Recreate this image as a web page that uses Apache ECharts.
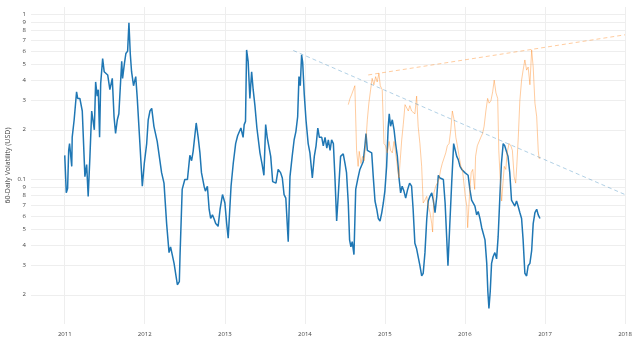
<!DOCTYPE html>
<html>
<head>
<meta charset="utf-8">
<script src="https://cdn.jsdelivr.net/npm/echarts@6/dist/echarts.min.js"></script>
<style>
html,body{margin:0;padding:0;background:#fff;}
#chart{width:640px;height:358px;}
</style>
</head>
<body>
<div id="chart"></div>
<script>
const blueDates = [
'2011-01-01','2011-01-07','2011-01-08','2011-01-14','2011-01-19','2011-01-23','2011-02-02','2011-02-04','2011-02-13','2011-02-24',
'2011-03-01','2011-03-11','2011-03-22','2011-04-03','2011-04-11','2011-04-18','2011-04-26','2011-05-04','2011-05-11','2011-05-16',
'2011-05-22','2011-05-29','2011-06-03','2011-06-09','2011-06-14','2011-06-23','2011-06-30','2011-07-08','2011-07-16','2011-07-26',
'2011-08-06','2011-08-14','2011-08-21','2011-08-29','2011-09-05','2011-09-18','2011-09-22','2011-09-30','2011-10-07','2011-10-15',
'2011-10-21','2011-10-27','2011-11-02','2011-11-11','2011-11-21','2011-11-28','2011-12-10','2011-12-21','2011-12-30','2012-01-10',
'2012-01-17','2012-01-25','2012-02-02','2012-02-12','2012-02-20','2012-02-27','2012-03-06','2012-03-18','2012-03-29','2012-04-10',
'2012-04-21','2012-04-28','2012-05-06','2012-05-14','2012-05-21','2012-05-29','2012-06-03','2012-06-07','2012-06-10','2012-06-20',
'2012-07-02','2012-07-14','2012-07-25','2012-08-02','2012-08-09','2012-08-17','2012-08-23','2012-09-01','2012-09-09','2012-09-16',
'2012-09-28','2012-10-04','2012-10-13','2012-10-21','2012-10-28','2012-11-05','2012-11-12','2012-11-20','2012-12-01','2012-12-10',
'2012-12-21','2013-01-01','2013-01-09','2013-01-16','2013-01-29','2013-02-08','2013-02-19','2013-02-28','2013-03-07','2013-03-15',
'2013-03-25','2013-03-30','2013-04-05','2013-04-10','2013-04-17','2013-04-25','2013-05-03','2013-05-10','2013-05-18','2013-05-27',
'2013-06-02','2013-06-10','2013-06-20','2013-06-28','2013-07-06','2013-07-13','2013-07-21','2013-07-29','2013-08-07','2013-08-14',
'2013-08-22','2013-09-01','2013-09-12','2013-09-20','2013-09-28','2013-10-06','2013-10-17','2013-10-25','2013-11-04','2013-11-13',
'2013-11-21','2013-11-29','2013-12-05','2013-12-11','2013-12-17','2013-12-22','2013-12-29','2014-01-06','2014-01-16','2014-01-24',
'2014-02-04','2014-02-13','2014-02-21','2014-03-01','2014-03-08','2014-03-19','2014-03-26','2014-04-03','2014-04-11','2014-04-18',
'2014-04-26','2014-05-03','2014-05-11','2014-05-18','2014-05-26','2014-06-02','2014-06-13','2014-06-25','2014-07-03','2014-07-10',
'2014-07-18','2014-07-24','2014-07-30','2014-08-05','2014-08-13','2014-08-21','2014-08-30','2014-09-09','2014-09-17','2014-09-24',
'2014-10-02','2014-10-07','2014-10-13','2014-10-20','2014-11-02','2014-11-09','2014-11-17','2014-11-25','2014-12-02','2014-12-10',
'2014-12-18','2014-12-25','2015-01-01','2015-01-09','2015-01-16','2015-01-21','2015-01-27','2015-02-04','2015-02-12','2015-02-19',
'2015-02-27','2015-03-06','2015-03-14','2015-03-21','2015-03-29','2015-04-06','2015-04-15','2015-04-24','2015-05-03','2015-05-10',
'2015-05-18','2015-05-26','2015-06-02','2015-06-10','2015-06-18','2015-06-25','2015-07-03','2015-07-11','2015-07-18','2015-07-26',
'2015-08-03','2015-08-10','2015-08-18','2015-08-26','2015-09-02','2015-09-10','2015-09-17','2015-09-25','2015-10-03','2015-10-10',
'2015-10-16','2015-10-24','2015-11-02','2015-11-11','2015-11-17','2015-11-25','2015-12-02','2015-12-10','2015-12-18','2015-12-25',
'2016-01-01','2016-01-09','2016-01-16','2016-01-24','2016-02-01','2016-02-08','2016-02-16','2016-02-24','2016-03-02','2016-03-10',
'2016-03-18','2016-03-25','2016-04-02','2016-04-10','2016-04-15','2016-04-20','2016-04-26','2016-05-02','2016-05-09','2016-05-17',
'2016-05-25','2016-06-01','2016-06-09','2016-06-16','2016-06-24','2016-07-01','2016-07-09','2016-07-16','2016-07-24','2016-08-01',
'2016-08-08','2016-08-16','2016-08-24','2016-08-31','2016-09-08','2016-09-16','2016-09-23','2016-10-01','2016-10-09','2016-10-16',
'2016-10-24','2016-11-01','2016-11-08','2016-11-16','2016-11-24','2016-12-01','2016-12-09'
];
const blueValues = [
0.14,0.138,0.083,0.088,0.15,0.165,0.12,0.18,0.23,0.34,
0.31,0.31,0.26,0.104,0.123,0.079,0.138,0.26,0.26,0.20,
0.39,0.32,0.35,0.18,0.38,0.54,0.45,0.46,0.43,0.35,
0.41,0.24,0.19,0.23,0.25,0.52,0.41,0.50,0.58,0.60,
0.89,0.58,0.45,0.37,0.42,0.31,0.165,0.091,0.125,0.165,
0.23,0.26,0.27,0.21,0.215,0.17,0.174,0.11,0.095,0.054,
0.036,0.039,0.038,0.031,0.027,0.023,0.023,0.024,0.034,0.087,
0.10,0.10,0.14,0.13,0.148,0.15,0.22,0.18,0.145,0.11,
0.091,0.085,0.091,0.066,0.058,0.061,0.058,0.054,0.052,0.066,
0.081,0.072,0.054,0.044,0.091,0.125,0.165,0.184,0.18,0.205,
0.18,0.215,0.225,0.61,0.52,0.31,0.45,0.35,0.28,0.205,
0.205,0.145,0.123,0.106,0.215,0.18,0.18,0.138,0.097,0.095,
0.095,0.115,0.11,0.102,0.081,0.077,0.042,0.104,0.138,0.174,
0.195,0.24,0.42,0.37,0.57,0.51,0.33,0.23,0.165,0.145,
0.102,0.138,0.16,0.205,0.18,0.18,0.16,0.18,0.155,0.174,
0.15,0.174,0.165,0.104,0.056,0.079,0.138,0.143,0.125,0.11,
0.072,0.043,0.039,0.042,0.035,0.087,0.10,0.115,0.112,0.128,
0.16,0.19,0.15,0.148,0.145,0.104,0.074,0.066,0.058,0.056,
0.063,0.072,0.085,0.12,0.205,0.25,0.21,0.23,0.20,0.165,
0.138,0.104,0.083,0.091,0.085,0.077,0.087,0.095,0.091,0.066,
0.041,0.038,0.037,0.030,0.026,0.027,0.036,0.057,0.074,0.079,
0.083,0.075,0.063,0.079,0.106,0.102,0.104,0.10,0.072,0.045,
0.030,0.052,0.095,0.165,0.162,0.138,0.132,0.12,0.115,0.117,
0.11,0.112,0.106,0.087,0.075,0.077,0.069,0.061,0.064,0.058,
0.051,0.050,0.043,0.031,0.021,0.0165,0.021,0.031,0.034,0.036,
0.033,0.045,0.079,0.125,0.165,0.16,0.162,0.138,0.11,0.075,
0.072,0.069,0.074,0.069,0.063,0.058,0.043,0.027,0.026,0.030,
0.031,0.037,0.054,0.063,0.066,0.061,0.058
];
const orangeDates = [
'2014-07-18','2014-07-26','2014-08-02','2014-08-10','2014-08-17','2014-08-25','2014-09-01','2014-09-06','2014-09-14','2014-09-21',
'2014-09-29','2014-10-07','2014-10-13','2014-10-20','2014-10-28','2014-11-04','2014-11-12','2014-11-20','2014-11-27','2014-12-05',
'2014-12-11','2014-12-20','2014-12-28','2015-01-04','2015-01-12','2015-01-20','2015-01-27','2015-02-04','2015-02-12','2015-02-19',
'2015-02-27','2015-03-06','2015-03-12','2015-03-19','2015-03-26','2015-04-03','2015-04-10','2015-04-18','2015-04-25','2015-05-03',
'2015-05-10','2015-05-18','2015-05-26','2015-06-02','2015-06-10','2015-06-18','2015-06-25','2015-07-03','2015-07-11','2015-07-18',
'2015-07-26','2015-08-03','2015-08-07','2015-08-13','2015-08-21','2015-08-28','2015-09-05','2015-09-13','2015-09-20','2015-09-28',
'2015-10-06','2015-10-13','2015-10-21','2015-10-29','2015-11-05','2015-11-13','2015-11-21','2015-11-28','2015-12-06','2015-12-14',
'2015-12-21','2015-12-29','2016-01-03','2016-01-10','2016-01-14','2016-01-22','2016-01-30','2016-02-06','2016-02-15','2016-02-19',
'2016-02-27','2016-03-05','2016-03-14','2016-03-22','2016-03-29','2016-04-06','2016-04-14','2016-04-21','2016-04-29','2016-05-07',
'2016-05-14','2016-05-22','2016-05-30','2016-06-04','2016-06-10','2016-06-17','2016-06-23','2016-06-29','2016-07-06','2016-07-12',
'2016-07-21','2016-07-29','2016-08-05','2016-08-13','2016-08-20','2016-08-25','2016-09-01','2016-09-08','2016-09-16','2016-09-23',
'2016-10-01','2016-10-09','2016-10-16','2016-10-24','2016-11-01','2016-11-08','2016-11-16','2016-11-24','2016-12-01','2016-12-05','2016-12-10'
];
const orangeValues = [
0.284,0.31,0.326,0.32,0.37,0.15,0.12,0.148,0.125,0.138,
0.13,0.174,0.23,0.29,0.35,0.41,0.375,0.42,0.39,0.44,
0.37,0.35,0.165,0.16,0.145,0.17,0.15,0.145,0.17,0.145,
0.12,0.102,0.13,0.174,0.215,0.284,0.29,0.26,0.28,0.26,
0.26,0.25,0.32,0.21,0.165,0.12,0.072,0.075,0.079,0.069,
0.063,0.054,0.048,0.083,0.091,0.095,0.10,0.115,0.125,0.125,
0.145,0.16,0.165,0.20,0.26,0.23,0.18,0.16,0.138,0.12,
0.115,0.115,0.079,0.069,0.051,0.079,0.11,0.115,0.087,0.138,
0.16,0.16,0.18,0.19,0.21,0.26,0.31,0.29,0.30,0.34,
0.40,0.335,0.31,0.15,0.104,0.074,0.095,0.12,0.115,0.145,
0.165,0.16,0.15,0.104,0.095,0.12,0.18,0.30,0.40,0.46,
0.53,0.46,0.48,0.375,0.61,0.48,0.29,0.24,0.15,0.134,0.136
];
const blueTrendDates = ['2013-11-09','2018-01-01'];
const blueTrendValues = [0.605, 0.081];
const orangeTrendDates = ['2014-10-17','2018-01-01'];
const orangeTrendValues = [0.43, 0.753];

const xTickDates = ['2011-01-01','2012-01-01','2013-01-01','2014-01-01','2015-01-01','2016-01-01','2017-01-01','2018-01-01'];
const xTickLabels = ['2011','2012','2013','2014','2015','2016','2017','2018'];
const yTickValues = [0.02,0.03,0.04,0.05,0.06,0.07,0.08,0.09,0.1,0.2,0.3,0.4,0.5,0.6,0.7,0.8,0.9,1];
const yTickLabels = ['2','3','4','5','6','7','8','9','0.1','2','3','4','5','6','7','8','9','1'];

const xMin = '2010-07-31', xMax = '2018-01-01';
const yMin = 0.0133, yMax = 1.11;

// dates -> UTC timestamps
const toT = s => Date.parse(s + 'T00:00:00Z');
function pairs(d, v){ const n = Math.min(d.length, v.length); const out=[]; for(let i=0;i<n;i++) out.push([toT(d[i]), v[i]]); return out; }

const xTickTimes = xTickDates.map(toT);
const yTickLogs = yTickValues.map(v => Math.log10(v));

const FONT = '"Open Sans", "DejaVu Sans", sans-serif';
const chart = echarts.init(document.getElementById('chart'), null, {renderer:'canvas'});
chart.setOption({
  animation:false,
  backgroundColor:'#fff',
  grid:{left:31,right:15,top:7,bottom:34,containLabel:false,outerBoundsMode:'none'},
  xAxis:{
    type:'value', min:toT(xMin), max:toT(xMax), scale:true,
    axisLine:{show:false},
    axisTick:{show:false, customValues:xTickTimes},
    axisLabel:{customValues:xTickTimes, fontSize:6, color:'#444', fontFamily:FONT, margin:7,
      formatter:function(val){ for(let i=0;i<xTickTimes.length;i++){ if(Math.abs(xTickTimes[i]-val)<86400000) return xTickLabels[i]; } return ''; }},
    splitLine:{show:true, lineStyle:{color:'#eee', width:1}}
  },
  yAxis:[
    {type:'log', logBase:10, min:yMin, max:yMax, show:false, splitLine:{show:false}},
    {type:'value', position:'left', min:Math.log10(yMin), max:Math.log10(yMax),
      name:'60-Daily Volatility (USD)', nameLocation:'middle', nameGap:20, nameMoveOverlap:false,
      nameTextStyle:{fontSize:7, color:'#444', fontFamily:FONT},
      axisLine:{show:false},
      axisTick:{show:false, customValues:yTickLogs},
      axisLabel:{customValues:yTickLogs, fontSize:6, color:'#444', fontFamily:FONT, margin:5,
        formatter:function(val){ for(let i=0;i<yTickLogs.length;i++){ if(Math.abs(yTickLogs[i]-val)<1e-6) return yTickLabels[i]; } return ''; }},
      splitLine:{show:true, lineStyle:{color:'#eee', width:1}}
    }
  ],
  series:[
    {type:'line', yAxisIndex:0, data:pairs(blueDates, blueValues), showSymbol:false, symbol:'none',
      lineStyle:{color:'#1f77b4', width:1.5}, z:3},
    {type:'line', yAxisIndex:0, data:pairs(orangeDates, orangeValues), showSymbol:false, symbol:'none',
      lineStyle:{color:'rgba(255,127,14,0.4)', width:1}, z:4},
    {type:'line', yAxisIndex:0, data:pairs(blueTrendDates, blueTrendValues), showSymbol:false, symbol:'none',
      lineStyle:{color:'rgba(31,119,180,0.35)', width:1, type:[4,3]}, z:5},
    {type:'line', yAxisIndex:0, data:pairs(orangeTrendDates, orangeTrendValues), showSymbol:false, symbol:'none',
      lineStyle:{color:'rgba(255,127,14,0.4)', width:1, type:[4,3]}, z:5}
  ]
});
</script>
</body>
</html>
